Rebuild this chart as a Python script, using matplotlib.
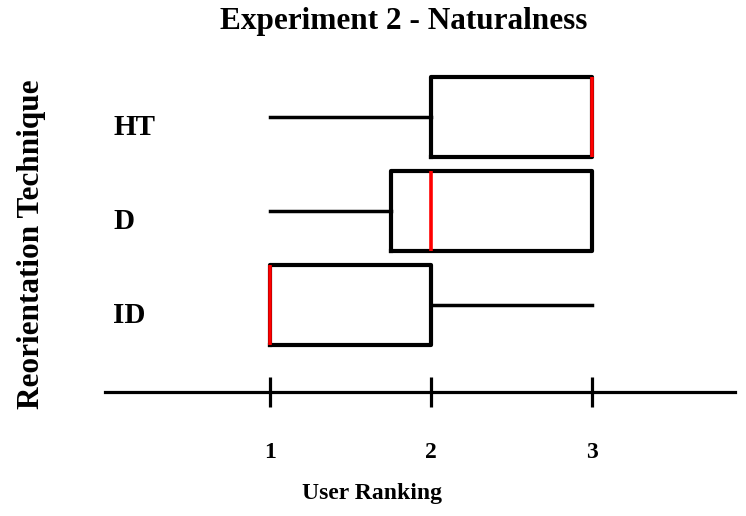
import matplotlib
matplotlib.use("Agg")
import matplotlib.pyplot as plt
from matplotlib.transforms import ScaledTranslation

categories = ["ID", "D", "HT"]
whislo = [1, 1, 1]
q1 = [1, 1.75, 2]
med = [1, 2, 3]
q3 = [2, 3, 3]
whishi = [3, 3, 3]
xticks = [1, 2, 3]

W, H = 746, 516
fig = plt.figure(figsize=(W / 100, H / 100), dpi=100)
left_px, right_px, top_px, bottom_px = 105, 735, 60, 392
ax = fig.add_axes([left_px / W, 1 - bottom_px / H,
                   (right_px - left_px) / W, (bottom_px - top_px) / H])

serif = "Liberation Serif"

stats = []
for i, c in enumerate(categories):
    stats.append(dict(label=c, whislo=whislo[i], q1=q1[i], med=med[i],
                      q3=q3[i], whishi=whishi[i], fliers=[]))

positions = list(range(1, len(categories) + 1))
ax.bxp(stats, positions=positions, vert=False, widths=0.85,
       showcaps=False, showfliers=False, patch_artist=False,
       boxprops=dict(color="black", linewidth=3.0),
       whiskerprops=dict(color="black", linewidth=2.5),
       medianprops=dict(color="#ff0000", linewidth=2.6, solid_capstyle="butt"))

ax.set_xlim(-0.025, 3.89)
ax.set_ylim(0.074, 3.606)

for s in ["top", "right", "left"]:
    ax.spines[s].set_visible(False)
ax.spines["bottom"].set_linewidth(2.3)

ax.set_xticks(xticks)
ax.set_xticklabels([str(t) for t in xticks], fontfamily=serif,
                   fontweight="bold", fontsize=17)
ax.tick_params(axis="x", direction="inout", length=22, width=2.3, pad=25)

ax.set_yticks(positions)
ax.set_yticklabels(categories, fontfamily=serif, fontweight="bold",
                   fontsize=21, ha="left")
ax.tick_params(axis="y", length=0, pad=-6)
off = ScaledTranslation(0, -8 / 100, fig.dpi_scale_trans)
for lab in ax.get_yticklabels():
    lab.set_transform(lab.get_transform() + off)

ax.set_xlabel("User Ranking", fontfamily=serif, fontweight="bold",
              fontsize=17, va="center", ha="center")
ax.xaxis.set_label_coords((372 - left_px) / (right_px - left_px),
                          -(493 - bottom_px) / (bottom_px - top_px))
ax.set_ylabel("Reorientation Technique", fontfamily=serif,
              fontweight="bold", fontsize=22.5, va="center", ha="center")
ax.yaxis.set_label_coords((32 - left_px) / (right_px - left_px),
                          (bottom_px - 244) / (bottom_px - top_px))

fig.text(404 / W, 1 - 21 / H, "Experiment 2 - Naturalness", fontfamily=serif,
         fontweight="bold", fontsize=22.5, ha="center", va="center")

fig.savefig("out.png", dpi=100)
